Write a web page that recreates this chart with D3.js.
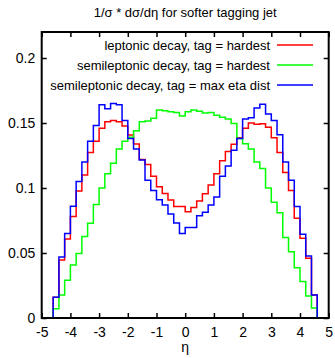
<!DOCTYPE html>
<html>
<head>
<meta charset="utf-8">
<script src="https://cdn.jsdelivr.net/npm/d3@7"></script>
<style>
  body { margin: 0; background: #fff; }
  text { font-family: "Liberation Sans", Arial, sans-serif; fill: #000; }
</style>
</head>
<body>
<svg id="chart" width="335" height="358"></svg>
<script>
// bin lower edges: -4.6 ... 4.4, width 0.2
const binStart = -4.6;
const binWidth = 0.2;

const leptonicHardest = [
  0.016, 0.0446, 0.0608, 0.078, 0.0977, 0.110, 0.1274, 0.136, 0.146, 0.151,
  0.152, 0.151, 0.1477, 0.1408, 0.1338, 0.122, 0.118, 0.109, 0.101, 0.0957,
  0.0908, 0.0857, 0.0857, 0.0818, 0.085, 0.090, 0.0955, 0.1023, 0.111, 0.121,
  0.128, 0.1336, 0.1387, 0.146, 0.150, 0.149, 0.1495, 0.1467, 0.1387, 0.1274,
  0.112, 0.098, 0.0767, 0.0613, 0.0459, 0.0177
];
const semiHardest = [
  0.0072, 0.0177, 0.029, 0.0408, 0.0497, 0.0626, 0.0728, 0.0874, 0.100, 0.111,
  0.119, 0.130, 0.136, 0.139, 0.144, 0.151, 0.1515, 0.1536, 0.160, 0.1595,
  0.1587, 0.158, 0.1554, 0.1587, 0.160, 0.159, 0.1577, 0.158, 0.156, 0.1544,
  0.153, 0.1497, 0.138, 0.134, 0.130, 0.120, 0.115, 0.100, 0.089, 0.081,
  0.062, 0.051, 0.0387, 0.028, 0.017, 0.0077
];
const semiMaxEta = [
  0.016, 0.047, 0.065, 0.086, 0.105, 0.120, 0.136, 0.148, 0.164, 0.161,
  0.165, 0.164, 0.152, 0.138, 0.130, 0.1215, 0.106, 0.098, 0.091, 0.087,
  0.080, 0.073, 0.065, 0.0697, 0.0697, 0.0787, 0.0813, 0.087, 0.093, 0.109,
  0.117, 0.129, 0.138, 0.153, 0.154, 0.1615, 0.1644, 0.157, 0.152, 0.141,
  0.120, 0.106, 0.0857, 0.0644, 0.0477, 0.0177
];

const seriesNames = [
  "leptonic decay, tag = hardest",
  "semileptonic decay, tag = hardest",
  "semileptonic decay, tag = max eta dist"
];
const seriesColors = ["#ff0000", "#00ff00", "#0000ff"];

const xTicks = [-5, -4, -3, -2, -1, 0, 1, 2, 3, 4, 5];
const xTickLabels = ["-5", "-4", "-3", "-2", "-1", "0", "1", "2", "3", "4", "5"];
const yTicks = [0, 0.05, 0.1, 0.15, 0.2];
const yTickLabels = ["0", "0.05", "0.1", "0.15", "0.2"];

const titleText = "1/σ * dσ/dη for softer tagging jet";
const xLabel = "η";

// plot box
const box = { left: 41.7, right: 328.7, top: 32, bottom: 318 };

const svg = d3.select("#chart");

const x = d3.scaleLinear().domain([-5, 5]).range([box.left, box.right]);
const y = d3.scaleLinear().domain([0, 0.22]).range([box.bottom, box.top]);

// title
svg.append("text")
  .attr("x", (box.left + box.right) / 2)
  .attr("y", 17)
  .attr("text-anchor", "middle")
  .style("font-size", "13px")
  .text(titleText);

// histogram steps
const line = d3.line()
  .x(d => x(d[0]))
  .y(d => y(d[1]))
  .curve(d3.curveStepAfter);

function stepPoints(values) {
  const pts = [[binStart, 0]];
  values.forEach((v, i) => pts.push([binStart + i * binWidth, v]));
  const end = binStart + values.length * binWidth;
  pts.push([end, values[values.length - 1]]);
  pts.push([end, 0]);
  return pts;
}

const allSeries = [leptonicHardest, semiHardest, semiMaxEta];
allSeries.forEach((vals, i) => {
  svg.append("path")
    .attr("d", line(stepPoints(vals)))
    .attr("fill", "none")
    .attr("stroke", seriesColors[i])
    .attr("stroke-width", 1.5);
});

// axes, ticks pointing inward on all four sides
svg.append("g")
  .attr("transform", "translate(0," + box.bottom + ")")
  .call(d3.axisBottom(x).tickValues(xTicks).tickSizeInner(-5).tickSizeOuter(0)
    .tickPadding(9).tickFormat((d, i) => xTickLabels[i]))
  .call(g => g.select(".domain").remove())
  .call(g => g.selectAll("text").style("font-size", "14px"));

svg.append("g")
  .attr("transform", "translate(0," + box.top + ")")
  .call(d3.axisTop(x).tickValues(xTicks).tickSizeInner(-5).tickSizeOuter(0).tickFormat(""))
  .call(g => g.select(".domain").remove());

svg.append("g")
  .attr("transform", "translate(" + box.left + ",0)")
  .call(d3.axisLeft(y).tickValues(yTicks).tickSizeInner(-5).tickSizeOuter(0)
    .tickPadding(6.5).tickFormat((d, i) => yTickLabels[i]))
  .call(g => g.select(".domain").remove())
  .call(g => g.selectAll("text").style("font-size", "14px"));

svg.append("g")
  .attr("transform", "translate(" + box.right + ",0)")
  .call(d3.axisRight(y).tickValues(yTicks).tickSizeInner(-5).tickSizeOuter(0).tickFormat(""))
  .call(g => g.select(".domain").remove());

svg.selectAll(".tick line").attr("stroke-width", 1.5);

// frame
svg.append("rect")
  .attr("x", box.left).attr("y", box.top)
  .attr("width", box.right - box.left).attr("height", box.bottom - box.top)
  .attr("fill", "none")
  .attr("stroke", "#000")
  .attr("stroke-width", 2);

// x label
svg.append("text")
  .attr("x", (box.left + box.right) / 2)
  .attr("y", 352)
  .attr("text-anchor", "middle")
  .style("font-size", "14px")
  .text(xLabel);

// legend
const legend = svg.append("g");
seriesNames.forEach((name, i) => {
  const ly = 45 + i * 20;
  legend.append("text")
    .attr("x", 270)
    .attr("y", ly)
    .attr("dy", "0.35em")
    .attr("text-anchor", "end")
    .style("font-size", "13px")
    .text(name);
  legend.append("line")
    .attr("x1", 277).attr("x2", 313)
    .attr("y1", ly).attr("y2", ly)
    .attr("stroke", seriesColors[i])
    .attr("stroke-width", 1.5);
});
</script>
</body>
</html>
